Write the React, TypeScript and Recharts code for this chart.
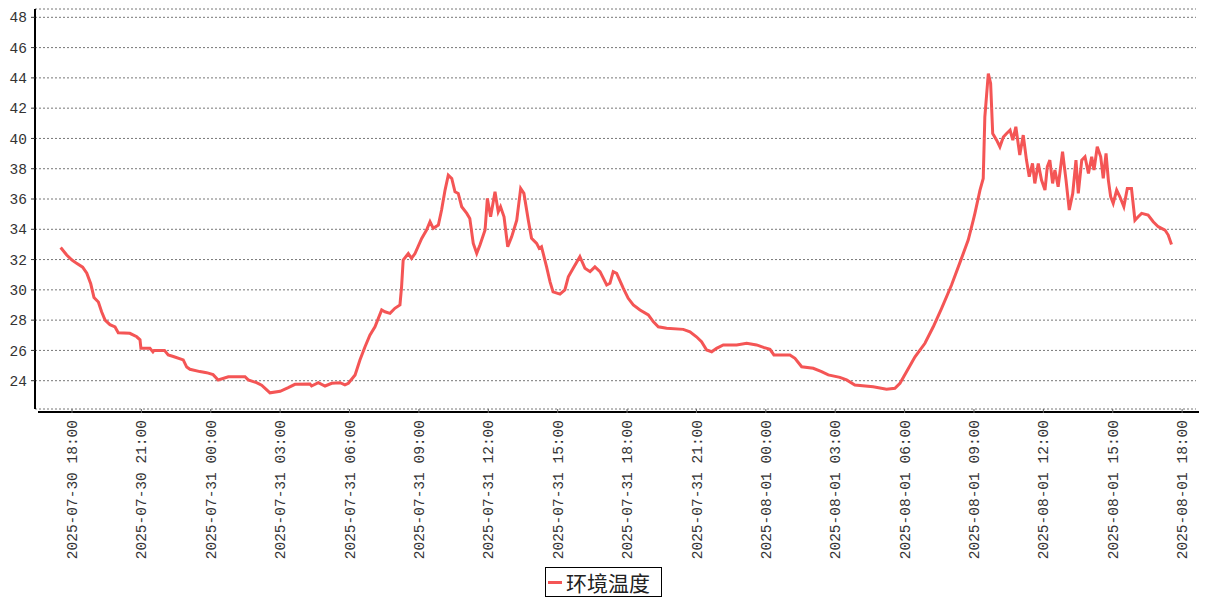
import { CartesianGrid, Legend, Line, LineChart, XAxis, YAxis } from "recharts";

// hours since 2025-07-30 18:00
const hours = [
  -0.49, -0.23, 0.0, 0.2, 0.46, 0.64, 0.81, 0.95, 1.14, 1.28, 1.43, 1.64, 1.86, 2.0, 2.5, 2.8,
  2.94, 2.98, 3.37, 3.5, 3.55, 4.0, 4.16, 4.38, 4.81, 4.96, 5.1, 5.53, 5.82, 6.1, 6.32, 6.76,
  7.12, 7.48, 7.62, 7.98, 8.2, 8.42, 8.56, 9.0, 9.35, 9.64, 10.29, 10.36, 10.65, 10.94, 11.23,
  11.59, 11.8, 11.95, 12.24, 12.45, 12.67, 12.88, 13.1, 13.39, 13.53, 13.75, 13.96, 14.18, 14.25,
  14.32, 14.54, 14.68, 14.83, 15.12, 15.33, 15.48, 15.62, 15.84, 15.98, 16.13, 16.27, 16.42,
  16.56, 16.7, 16.85, 17.07, 17.2, 17.35, 17.5, 17.64, 17.86, 17.96, 18.1, 18.29, 18.43, 18.53,
  18.68, 18.84, 19.01, 19.23, 19.4, 19.54, 19.73, 19.87, 20.09, 20.2, 20.3, 20.52, 20.67, 20.8,
  21.1, 21.31, 21.46, 21.67, 21.96, 22.18, 22.4, 22.61, 22.83, 23.12, 23.26, 23.4, 23.55, 23.84,
  24.05, 24.27, 24.56, 24.92, 25.13, 25.35, 25.71, 26.43, 26.72, 27.0, 27.22, 27.44, 27.66,
  27.87, 28.16, 28.74, 29.17, 29.6, 29.9, 30.18, 30.35, 31.04, 31.26, 31.55, 32.05, 32.41, 32.7,
  33.2, 33.49, 33.85, 34.64, 35.22, 35.58, 35.8, 36.09, 36.45, 36.88, 37.24, 37.6, 38.03, 38.46,
  38.75, 38.97, 39.04, 39.26, 39.4, 39.47, 39.62, 39.72, 39.81, 39.98, 40.12, 40.27, 40.41,
  40.56, 40.68, 40.81, 40.98, 41.13, 41.27, 41.39, 41.53, 41.63, 41.78, 41.92, 42.07, 42.17,
  42.28, 42.4, 42.5, 42.64, 42.83, 42.98, 43.12, 43.27, 43.41, 43.51, 43.66, 43.8, 43.95, 44.09,
  44.19, 44.33, 44.48, 44.59, 44.71, 44.81, 44.91, 45.02, 45.17, 45.31, 45.48, 45.63, 45.81,
  45.96, 46.1, 46.25, 46.53, 46.75, 46.97, 47.26, 47.4, 47.54,
];

const temps = [
  32.8, 32.3, 31.97, 31.75, 31.5, 31.1, 30.4, 29.5, 29.2, 28.55, 28.0, 27.7, 27.55, 27.17, 27.13,
  26.9, 26.7, 26.14, 26.14, 25.9, 26.0, 26.0, 25.7, 25.6, 25.37, 24.9, 24.75, 24.6, 24.53, 24.4,
  24.05, 24.26, 24.26, 24.26, 24.05, 23.87, 23.7, 23.39, 23.2, 23.3, 23.54, 23.76, 23.78, 23.65,
  23.87, 23.65, 23.83, 23.87, 23.72, 23.83, 24.38, 25.37, 26.24, 27.0, 27.56, 28.67, 28.55,
  28.45, 28.78, 29.0, 30.2, 31.97, 32.4, 32.08, 32.4, 33.4, 33.95, 34.5, 34.06, 34.28, 35.27,
  36.59, 37.58, 37.36, 36.48, 36.37, 35.49, 35.05, 34.72, 33.07, 32.41, 32.96, 33.95, 36.04,
  34.83, 36.48, 35.15, 35.49, 34.83, 32.85, 33.5, 34.6, 36.7, 36.37, 34.6, 33.4, 33.07, 32.74,
  32.85, 31.52, 30.53, 29.87, 29.72, 29.99, 30.86, 31.42, 32.19, 31.42, 31.2, 31.52, 31.2, 30.32,
  30.43, 31.2, 31.09, 30.1, 29.44, 29.0, 28.67, 28.34, 27.9, 27.56, 27.46, 27.39, 27.23, 26.9,
  26.57, 26.03, 25.91, 26.14, 26.36, 26.36, 26.47, 26.36, 26.2, 26.07, 25.7, 25.7, 25.48, 24.92,
  24.82, 24.6, 24.38, 24.22, 24.05, 23.72, 23.6, 23.43, 23.5, 23.83, 24.6, 25.58, 26.47, 27.56,
  28.78, 30.32, 32.08, 33.29, 34.6, 35.05, 36.59, 37.36, 41.43, 44.29, 43.63, 40.33, 39.89,
  39.45, 40.1, 40.33, 40.55, 39.89, 40.77, 38.9, 40.22, 38.57, 37.47, 38.35, 37.03, 38.35, 37.25,
  36.59, 38.13, 38.57, 37.03, 37.91, 36.81, 39.12, 37.25, 35.27, 36.37, 38.57, 36.37, 38.57,
  38.79, 37.69, 38.79, 37.91, 39.45, 38.79, 37.36, 39.01, 37.25, 36.15, 35.71, 36.59, 36.15,
  35.49, 36.7, 36.7, 34.6, 34.83, 35.05, 34.94, 34.5, 34.17, 33.95, 33.62, 33.0,
];

const xTicks = [0, 3, 6, 9, 12, 15, 18, 21, 24, 27, 30, 33, 36, 39, 42, 45, 48];
const xTickLabels = [
  "2025-07-30 18:00", "2025-07-30 21:00", "2025-07-31 00:00", "2025-07-31 03:00",
  "2025-07-31 06:00", "2025-07-31 09:00", "2025-07-31 12:00", "2025-07-31 15:00",
  "2025-07-31 18:00", "2025-07-31 21:00", "2025-08-01 00:00", "2025-08-01 03:00",
  "2025-08-01 06:00", "2025-08-01 09:00", "2025-08-01 12:00", "2025-08-01 15:00",
  "2025-08-01 18:00",
];
const yTicks = [24, 26, 28, 30, 32, 34, 36, 38, 40, 42, 44, 46, 48];
const seriesName = "环境温度";

const data = hours.map((h, i) => ({ h, temp: temps[i] }));

const FONT = "'Liberation Mono', monospace";
const RED = "#f45555";

function XTick({ x, y, payload }: { x?: number; y?: number; payload?: { value: number } }) {
  const idx = xTicks.indexOf(payload?.value ?? -1);
  return (
    <text
      x={x}
      y={y}
      transform={`rotate(-90 ${x} ${y})`}
      textAnchor="end"
      dy="0.35em"
      fill="#333"
      fontSize={14.5}
      fontFamily={FONT}
    >
      {xTickLabels[idx]}
    </text>
  );
}

function LegendBox() {
  return (
    <div style={{ marginLeft: 545, width: 117, height: 30, boxSizing: "border-box", border: "1px solid #000", display: "flex", alignItems: "center", background: "#fff" }}>
      <span style={{ display: "inline-block", width: 14, height: 3, background: RED, marginLeft: 2, marginRight: 4 }} />
      <span style={{ fontFamily: "'Noto Sans CJK SC', sans-serif", fontSize: 21, color: "#222", lineHeight: "28px" }}>
        {seriesName}
      </span>
    </div>
  );
}

export default function App() {
  return (
    <div style={{ position: "absolute", left: 0, top: 0, width: 1207, height: 600, background: "#fff" }}>
      <LineChart width={1207} height={600} data={data} margin={{ top: 9, right: 11, bottom: 3, left: 0 }}>
        <CartesianGrid vertical={false} stroke="#777" strokeDasharray="2 2" />
        <XAxis
          type="number"
          dataKey="h"
          domain={[-1.6, 48.6]}
          allowDataOverflow
          ticks={xTicks}
          interval={0}
          height={158}
          tickSize={4}
          tickMargin={7}
          tickLine={{ stroke: "#666" }}
          axisLine={{ stroke: "#000", strokeWidth: 2, transform: "translate(3,3)" }}
          tick={<XTick />}
        />
        <YAxis
          type="number"
          domain={[22.13, 48.55]}
          allowDataOverflow
          ticks={yTicks}
          interval={0}
          width={35}
          tickSize={4}
          tickMargin={4}
          tickLine={{ stroke: "#333" }}
          axisLine={{ stroke: "#000", strokeWidth: 2 }}
          tick={{ fill: "#333", fontSize: 14.5, fontFamily: FONT }}
        />
        <Legend verticalAlign="bottom" wrapperStyle={{ left: 0, width: 1207 }} content={() => <LegendBox />} />
        <Line
          type="linear"
          dataKey="temp"
          name={seriesName}
          stroke={RED}
          strokeWidth={3}
          dot={false}
          isAnimationActive={false}
        />
      </LineChart>
    </div>
  );
}
